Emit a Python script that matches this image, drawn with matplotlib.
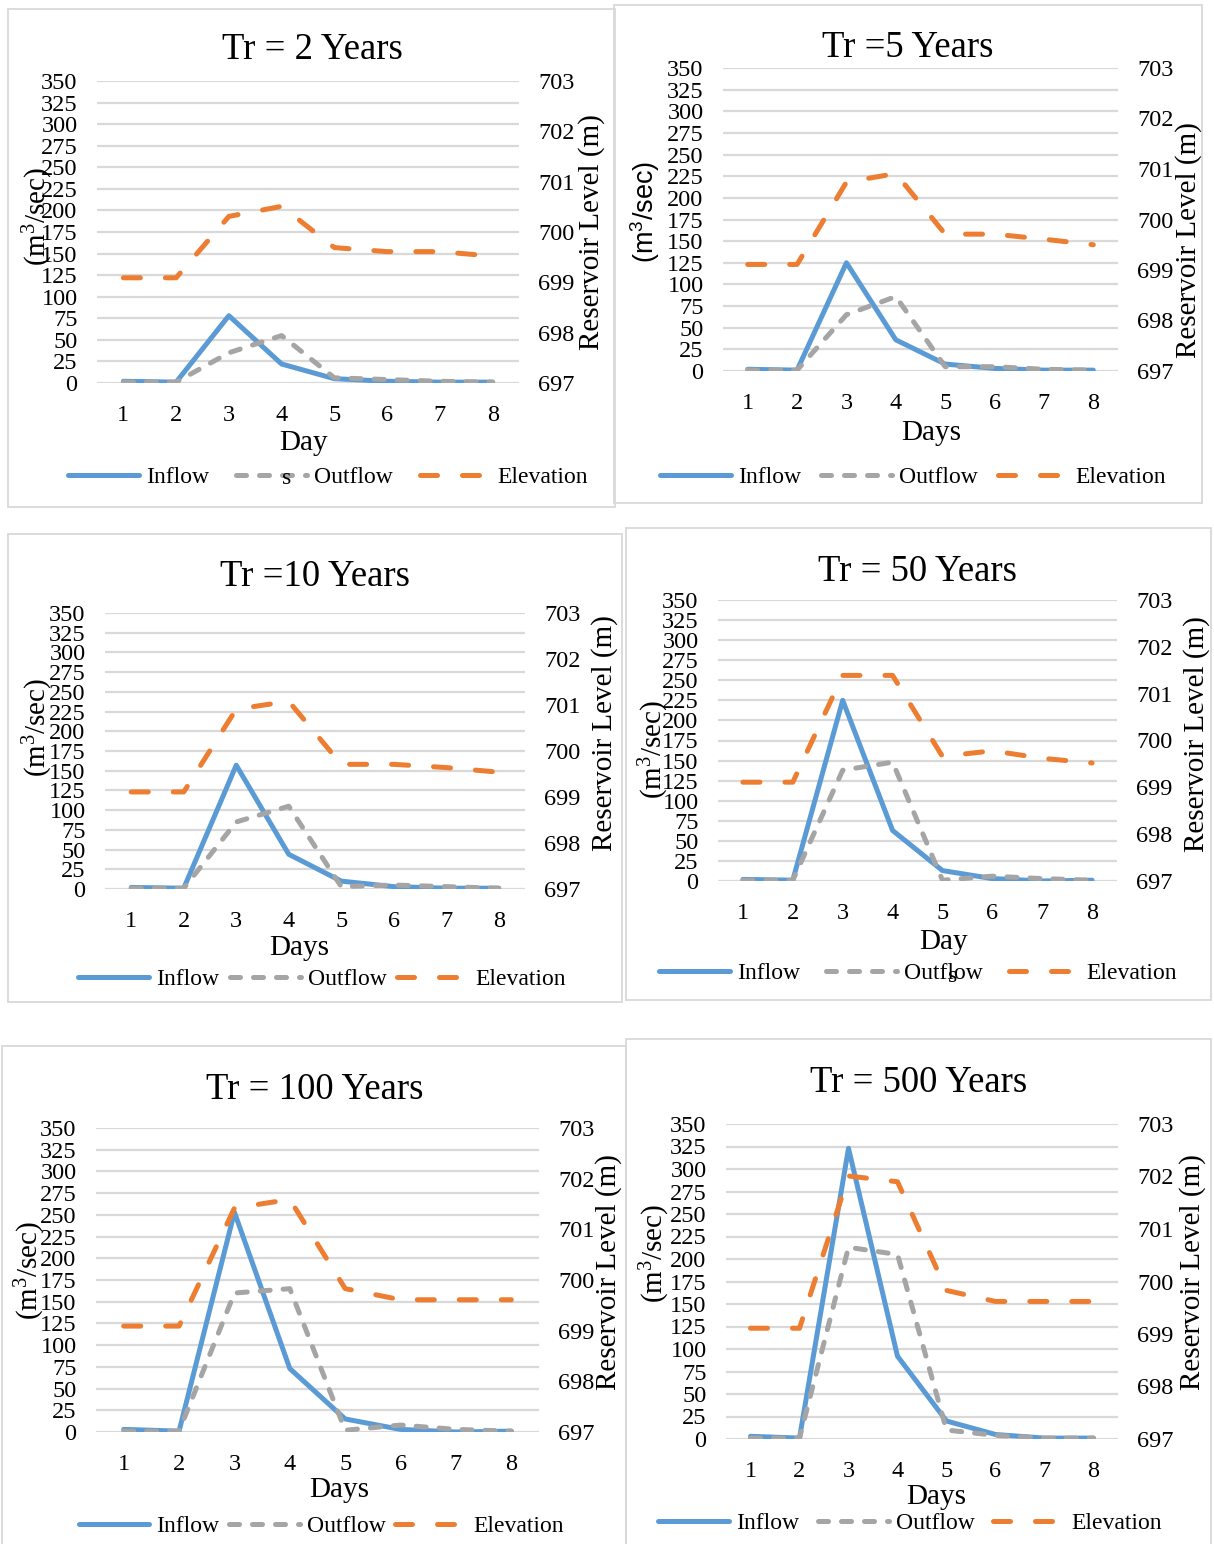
import matplotlib.pyplot as plt
from matplotlib.patches import Rectangle

plt.rcParams['font.family'] = ['Liberation Serif', 'DejaVu Serif']
plt.rcParams['mathtext.fontset'] = 'custom'
plt.rcParams['mathtext.rm'] = 'Liberation Serif'
plt.rcParams['mathtext.default'] = 'regular'

W, H = 1214, 1544

# ---- data ----
days = [1, 2, 3, 4, 5, 6, 7, 8]
flow_ticks = list(range(0, 351, 25))
level_ticks = [697, 698, 699, 700, 701, 702, 703]

inflow_2 = [2, 1, 78, 22, 5, 2, 1, 1]
outflow_2 = [1, 1, 35, 55, 6, 4, 2, 1]
elev_2 = [699.09, 699.09, 700.31, 700.51, 699.69, 699.61, 699.61, 699.52]

inflow_5 = [2, 1, 125, 36, 8, 3, 1, 1]
outflow_5 = [1, 1, 65, 86, 5, 5, 2, 1]
elev_5 = [699.11, 699.11, 700.74, 700.91, 699.71, 699.71, 699.61, 699.50]

inflow_10 = [2, 1, 157, 44, 10, 3, 1, 1]
outflow_10 = [1, 1, 85, 105, 3, 5, 3, 1]
elev_10 = [699.11, 699.11, 700.91, 701.08, 699.71, 699.71, 699.64, 699.54]

inflow_50 = [2, 1, 225, 63, 13, 3, 0, 1]
outflow_50 = [1, 1, 138, 148, 1, 6, 3, 1]
elev_50 = [699.11, 699.11, 701.39, 701.39, 699.66, 699.78, 699.62, 699.52]

inflow_100 = [3, 1, 253, 73, 15, 3, 0, 1]
outflow_100 = [1, 1, 160, 165, 2, 8, 3, 1]
elev_100 = [699.09, 699.09, 701.42, 701.59, 699.83, 699.61, 699.61, 699.61]

inflow_500 = [3, 1, 323, 92, 20, 5, 1, 1]
outflow_500 = [1, 1, 213, 205, 10, 4, 1, 1]
elev_500 = [699.11, 699.11, 702.01, 701.90, 699.83, 699.62, 699.62, 699.62]

titles = ['Tr = 2 Years', 'Tr =5 Years', 'Tr =10 Years',
          'Tr = 50 Years', 'Tr = 100 Years', 'Tr = 500 Years']
xlabels = ['Day', 'Days', 'Days', 'Day', 'Days', 'Days']
series = [(inflow_2, outflow_2, elev_2), (inflow_5, outflow_5, elev_5),
          (inflow_10, outflow_10, elev_10), (inflow_50, outflow_50, elev_50),
          (inflow_100, outflow_100, elev_100), (inflow_500, outflow_500, elev_500)]

# ---- layout in pixels of the 1214x1544 picture ----
# border (l, t, r, b), plot (x0, x1, ytop, ybot), title xy, xlabel xy,
# ylabel xy, right label xy, legend xy + column spacing
panels = [
    dict(border=(8, 9, 615, 507), plot=(97, 519, 81, 383), title=(312, 50),
         xlab=(304, 443), ylab=(38, 216), rlab=(592, 232), leg=(328, 477, 1.15)),
    dict(border=(614, 5, 1202, 503), plot=(723, 1118, 68, 371), title=(908, 48),
         xlab=(931, 433), ylab=(645, 212), rlab=(1189, 240), leg=(913, 477, 0.85)),
    dict(border=(8, 534, 622, 1002), plot=(105, 525, 613, 889), title=(315, 577),
         xlab=(299, 948), ylab=(38, 727), rlab=(605, 733), leg=(322, 979, 0.45)),
    dict(border=(626, 528, 1211, 1000), plot=(718, 1117, 600, 881), title=(917, 572),
         xlab=(944, 942), ylab=(654, 749), rlab=(1197, 734), leg=(918, 973, 1.1)),
    dict(border=(2, 1046, 626, 1560), plot=(96, 539, 1128, 1432), title=(315, 1090),
         xlab=(339, 1490), ylab=(30, 1270), rlab=(609, 1272), leg=(321, 1526, 0.4)),
    dict(border=(626, 1039, 1211, 1560), plot=(726, 1118, 1124, 1439), title=(919, 1083),
         xlab=(936, 1497), ylab=(655, 1253), rlab=(1193, 1272), leg=(910, 1523, 0.8)),
]
strays = [(287, 479), (953, 977)]

BLUE, GRAY, ORANGE, GRID = '#5B9BD5', '#A5A5A5', '#ED7D31', '#D9D9D9'


def fx(px):
    return px / W


def fy(py):
    return 1 - py / H


fig = plt.figure(figsize=(W / 100, H / 100), dpi=100)

for i, p in enumerate(panels):
    l, t, r, b = p['border']
    fig.patches.append(Rectangle((fx(l), fy(b)), (r - l) / W, (b - t) / H,
                                 transform=fig.transFigure, fill=False,
                                 edgecolor=GRID, lw=1.3))
    x0, x1, yt, yb = p['plot']
    ax = fig.add_axes([fx(x0), fy(yb), (x1 - x0) / W, (yb - yt) / H])
    ax2 = ax.twinx()
    inflow, outflow, elev = series[i]

    ax.set_xlim(0.5, 8.5)
    ax.set_ylim(0, 350)
    ax.set_xticks(days)
    ax.set_yticks(flow_ticks)
    ax.grid(axis='y', color=GRID, lw=1.6)
    ax.set_axisbelow(True)
    ax.tick_params(length=0, labelsize=17.5, pad=14)
    ax.tick_params(axis='x', pad=16)
    ax2.set_ylim(697, 703)
    ax2.set_yticks(level_ticks)
    ax2.tick_params(length=0, labelsize=17.5, pad=14)
    for a in (ax, ax2):
        for s in a.spines.values():
            s.set_visible(False)

    h1, = ax.plot(days, inflow, color=BLUE, lw=3.6, solid_capstyle='round',
                  solid_joinstyle='round', label='Inflow')
    h2, = ax.plot(days, outflow, color=GRAY, lw=3.6, dashes=(2.0, 2.6),
                  dash_capstyle='round', label='Outflow')
    h3, = ax2.plot(days, elev, color=ORANGE, lw=3.6, dashes=(3.4, 5.0),
                   dash_capstyle='round', label='Elevation')

    fig.text(fx(p['title'][0]), fy(p['title'][1]), titles[i], fontsize=26.5,
             ha='center', va='center')
    fig.text(fx(p['xlab'][0]), fy(p['xlab'][1]), xlabels[i], fontsize=21,
             ha='center', va='center')
    if i == 1:
        fig.text(fx(p['ylab'][0]), fy(p['ylab'][1]), r'(m$^3$/sec)',
                 family=['Liberation Sans'], fontsize=19.5, rotation=90,
                 ha='center', va='center')
    else:
        fig.text(fx(p['ylab'][0]), fy(p['ylab'][1]), r'(m$^3$/sec)', fontsize=21,
                 rotation=90, ha='center', va='center')
    fig.text(fx(p['rlab'][0]), fy(p['rlab'][1]), 'Reservoir Level (m)',
             fontsize=21, rotation=90, ha='center', va='center')

    lx, ly, cs = p['leg']
    ax2.legend([h1, h2, h3], ['Inflow', 'Outflow', 'Elevation'], loc='center',
               bbox_to_anchor=(fx(lx), fy(ly)), bbox_transform=fig.transFigure,
               ncol=3, frameon=False, fontsize=17, handlelength=3,
               handletextpad=0.3, columnspacing=cs, borderpad=0,
               borderaxespad=0)

# stray characters left over in the original legends
for sx, sy in strays:
    fig.text(fx(sx), fy(sy), 's', fontsize=17, ha='center', va='center',
             zorder=10)

fig.savefig('out.png', dpi=100)
